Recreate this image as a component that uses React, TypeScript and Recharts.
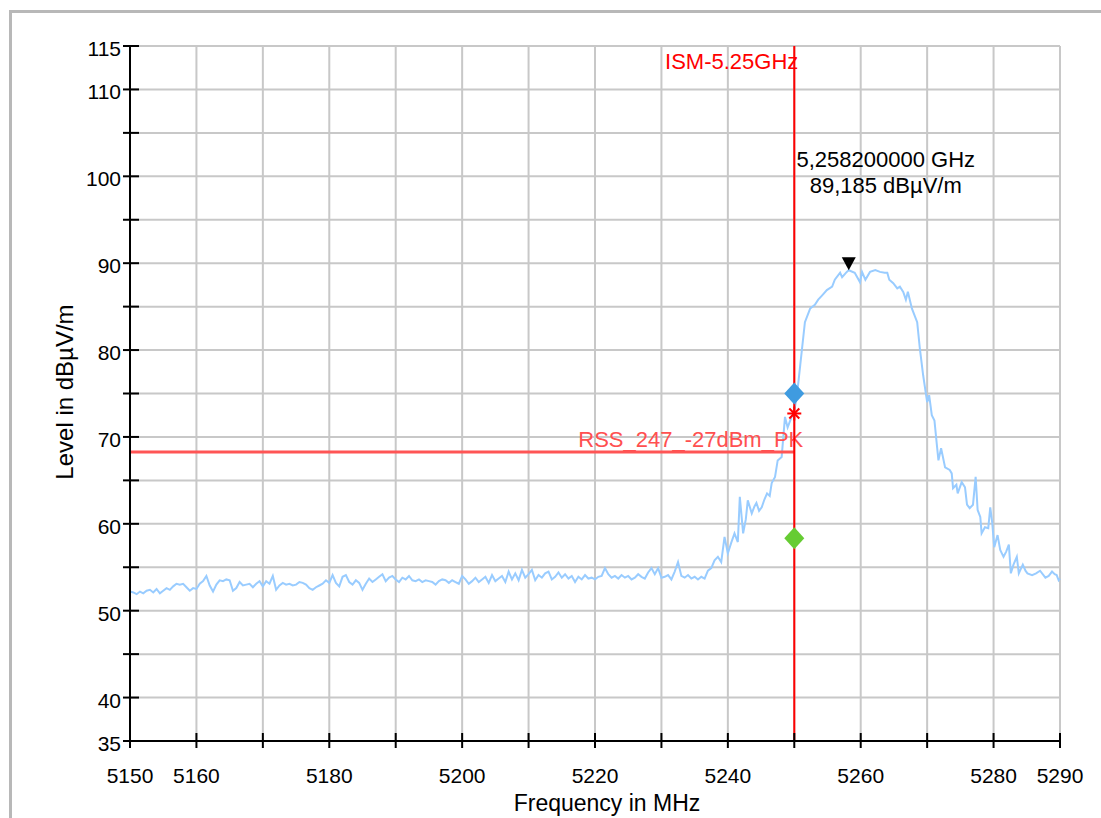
import React from "react";
import {
  LineChart,
  Line,
  XAxis,
  YAxis,
  CartesianGrid,
  ReferenceLine,
  ReferenceDot,
} from "recharts";

// sweep points (MHz) and measured level (dBµV/m)
const FREQ_MHZ = [
  5150, 5150.5, 5151, 5151.5, 5152, 5152.5, 5153, 5153.5, 5154, 5154.5,
  5155, 5155.5, 5156, 5156.5, 5157, 5157.5, 5158, 5158.5, 5159, 5159.5,
  5160, 5160.5, 5161, 5161.5, 5162, 5162.5, 5163, 5163.5, 5164, 5164.5,
  5165, 5165.5, 5166, 5166.5, 5167, 5167.5, 5168, 5168.5, 5169, 5169.5,
  5170, 5170.5, 5171, 5171.5, 5172, 5172.5, 5173, 5173.5, 5174, 5174.5,
  5175, 5175.5, 5176, 5176.5, 5177, 5177.5, 5178, 5178.5, 5179, 5179.5,
  5180, 5180.5, 5181, 5181.5, 5182, 5182.5, 5183, 5183.5, 5184, 5184.5,
  5185, 5185.5, 5186, 5186.5, 5187, 5187.5, 5188, 5188.5, 5189, 5189.5,
  5190, 5190.5, 5191, 5191.5, 5192, 5192.5, 5193, 5193.5, 5194, 5194.5,
  5195, 5195.5, 5196, 5196.5, 5197, 5197.5, 5198, 5198.5, 5199, 5199.5,
  5200, 5200.5, 5201, 5201.5, 5202, 5202.5, 5203, 5203.5, 5204, 5204.5,
  5205, 5205.5, 5206, 5206.5, 5207, 5207.5, 5208, 5208.5, 5209, 5209.5,
  5210, 5210.5, 5211, 5211.5, 5212, 5212.5, 5213, 5213.5, 5214, 5214.5,
  5215, 5215.5, 5216, 5216.5, 5217, 5217.5, 5218, 5218.5, 5219, 5219.5,
  5220, 5220.5, 5221, 5221.5, 5222, 5222.5, 5223, 5223.5, 5224, 5224.5,
  5225, 5225.5, 5226, 5226.5, 5227, 5227.5, 5228, 5228.5, 5229, 5229.5,
  5230, 5230.5, 5231, 5231.5, 5232, 5232.5, 5233, 5233.5, 5234, 5234.5,
  5235, 5235.5, 5236, 5236.5, 5237,
  5237.5, 5238, 5238.5, 5239, 5239.5, 5240, 5240.5, 5241, 5241.5, 5241.8,
  5242.3, 5242.7, 5243, 5243.6, 5244, 5244.3, 5244.7, 5245.1, 5245.5, 5245.9,
  5246.3, 5246.6, 5247.1, 5247.5, 5248.1, 5248.6, 5249, 5249.6, 5250, 5250.4,
  5250.9, 5251.6, 5252.4, 5253.1, 5253.6, 5254.2, 5254.9, 5255.7, 5256.1, 5256.9,
  5257.2, 5257.9, 5258.2, 5259.1, 5259.9, 5260.2, 5260.7, 5261.4, 5262.2, 5262.9,
  5263.6, 5264, 5264.3, 5264.9, 5265.5, 5265.9, 5266.4, 5266.8, 5267.1, 5267.7,
  5268.5, 5268.9, 5269.4, 5270, 5270.3, 5270.7, 5271.1, 5271.5, 5271.7, 5272.1,
  5272.7, 5273.4, 5273.7, 5273.9, 5274.4, 5274.6, 5275.2, 5275.7, 5276, 5276.4,
  5276.9, 5277.3, 5277.6, 5278, 5278.2, 5278.7, 5279.2, 5279.5, 5279.8, 5280.1,
  5280.6, 5281, 5281.5, 5281.9, 5282.3, 5282.6, 5283, 5283.5, 5283.8, 5284.4,
  5284.8, 5285.1, 5285.8, 5286.4, 5287, 5287.8, 5288.3, 5288.8, 5289.2, 5289.5,
  5289.8, 5290,
];

const LEVEL = [
  52.2, 52.1, 51.9, 52.2, 52.0, 52.3, 52.4, 52.1, 52.5, 52.0,
  52.3, 52.6, 52.4, 52.8, 53.1, 53.0, 53.1, 52.7, 52.3, 52.6,
  52.5, 53.1, 53.4, 54.0, 52.9, 52.2, 53.0, 53.5, 53.4, 53.6,
  53.5, 52.3, 52.6, 53.3, 52.9, 53.0, 53.1, 52.7, 53.1, 53.4,
  52.8, 53.4, 53.1, 54.0, 52.4, 52.9, 53.2, 53.0, 53.1, 52.9,
  53.0, 53.3, 53.2, 53.0, 52.6, 52.4, 52.7, 52.9, 53.1, 53.5,
  53.2, 54.1, 53.2, 52.8, 53.9, 54.1, 53.3, 53.0, 53.5, 53.2,
  52.4, 53.1, 53.7, 53.3, 53.6, 53.9, 54.2, 53.4, 53.8, 54.0,
  53.6, 53.3, 53.8, 53.6, 54.0, 53.5, 53.4, 53.6, 53.3, 53.5,
  53.4, 53.3, 53.0, 53.4, 53.6, 53.5, 53.2, 53.5, 53.3, 53.1,
  54.0, 53.6, 53.1, 53.4, 53.8, 53.3, 53.6, 53.9, 53.2, 54.1,
  53.4, 53.7, 54.0, 53.3, 54.5, 53.6, 54.3, 53.5, 54.7, 53.8,
  54.2, 54.7, 53.5, 54.1, 53.8, 54.3, 54.5, 53.6, 53.9, 54.4,
  53.8, 54.2, 53.7, 54.0, 53.3, 53.9, 53.6, 54.1, 53.7, 53.8,
  53.6, 53.9, 54.0, 54.9, 54.2, 53.8, 54.0, 53.7, 54.1, 53.8,
  54.0, 53.6, 53.8, 54.2, 53.9, 53.7, 54.4, 54.9, 54.2, 54.9,
  53.8, 53.9, 54.1, 53.6, 54.5, 55.6, 54.0, 53.8, 54.1, 53.7,
  53.9, 53.6, 53.9, 53.7, 54.6,
  54.9, 55.8, 56.2, 55.6, 58.5, 56.6, 57.8, 58.9, 57.9, 63.1,
  58.9, 60.5, 62.7, 61.2, 62.0, 62.4, 61.5, 61.9, 62.8, 63.5,
  63.2, 64.7, 65.4, 67.3, 67.7, 72.3, 71.1, 72.3, 73.0, 74.8,
  78.3, 83.2, 84.8, 85.2, 85.8, 86.3, 86.9, 87.3, 88.1, 88.9,
  88.4, 89.0, 89.185, 88.9, 87.8, 89.0, 88.1, 89.0, 89.2, 89.0,
  88.9, 88.9, 88.1, 87.7, 87.1, 87.3, 86.7, 85.8, 86.7, 84.8,
  83.2, 80.2, 77.1, 74.0, 74.8, 72.5, 71.9, 68.8, 67.3, 68.7,
  66.5, 66.2, 65.8, 64.1, 64.5, 63.5, 64.8, 64.2, 62.2, 61.8,
  62.2, 65.4, 61.6, 60.8, 58.9, 59.6, 59.5, 61.9, 60.1, 57.3,
  58.7, 57.0, 56.2, 56.8, 57.6, 54.3, 55.3, 56.2, 54.3, 55.3,
  54.6, 54.3, 54.1, 54.3, 54.6, 53.8, 54.0, 54.5, 54.2, 54.1,
  53.5, 53.7,
];

const X_TICKS = [5150, 5160, 5170, 5180, 5190, 5200, 5210, 5220, 5230, 5240, 5250, 5260, 5270, 5280, 5290];
const X_LABELS = [5150, 5160, 5180, 5200, 5220, 5240, 5260, 5280, 5290];
const Y_TICKS = [35, 40, 45, 50, 55, 60, 65, 70, 75, 80, 85, 90, 95, 100, 105, 110, 115];
const Y_LABELS = [35, 40, 50, 60, 70, 80, 90, 100, 110, 115];

const ISM_EDGE = 5250;
const LIMIT_LEVEL = 68.27;
const PEAK = { f: 5258.2, v: 89.185 };
const MARK_BLUE = 75;
const MARK_RED = 72.7;
const MARK_GREEN = 58.35;

const data = FREQ_MHZ.map((f, i) => ({ f, v: LEVEL[i] }));

const FONT = "'Liberation Sans', Arial, sans-serif";
const PLOT_LEFT = 130;
const PLOT_BOTTOM = 741;

const XTick = (props: any) => {
  const { x, payload } = props;
  return (
    <g>
      <line x1={x} x2={x} y1={PLOT_BOTTOM - 8} y2={PLOT_BOTTOM + 7} stroke="#000" strokeWidth={2} />
      {X_LABELS.includes(payload.value) && (
        <text x={x} y={PLOT_BOTTOM + 42} textAnchor="middle" fontSize={21} fontFamily={FONT} fill="#000">
          {payload.value}
        </text>
      )}
    </g>
  );
};

const YTick = (props: any) => {
  const { y, payload } = props;
  return (
    <g>
      <line x1={PLOT_LEFT - 7} x2={PLOT_LEFT + 9} y1={y} y2={y} stroke="#000" strokeWidth={2} />
      {Y_LABELS.includes(payload.value) && (
        <text x={PLOT_LEFT - 9} y={y + 10} textAnchor="end" fontSize={21} fontFamily={FONT} fill="#000">
          {payload.value}
        </text>
      )}
    </g>
  );
};

const Diamond = ({ cx, cy, fill }: any) => (
  <path d={`M${cx},${cy - 11} L${cx + 10},${cy} L${cx},${cy + 11} L${cx - 10},${cy} Z`} fill={fill} />
);

const Star = ({ cx, cy }: any) => (
  <g stroke="#ff0000" strokeWidth={2}>
    <line x1={cx - 7} x2={cx + 7} y1={cy} y2={cy} />
    <line x1={cx} x2={cx} y1={cy - 7} y2={cy + 7} />
    <line x1={cx - 5} x2={cx + 5} y1={cy - 5} y2={cy + 5} />
    <line x1={cx - 5} x2={cx + 5} y1={cy + 5} y2={cy - 5} />
  </g>
);

const PeakMarker = ({ cx, cy }: any) => (
  <g>
    <path d={`M${cx - 7},${cy - 13} L${cx + 7},${cy - 13} L${cx},${cy} Z`} fill="#000" />
    <text x={cx + 37} y={cy - 103} textAnchor="middle" fontSize={22} fontFamily={FONT} fill="#000">
      5,258200000 GHz
    </text>
    <text x={cx + 37} y={cy - 77} textAnchor="middle" fontSize={22} fontFamily={FONT} fill="#000">
      89,185 dBµV/m
    </text>
  </g>
);

export default function App() {
  return (
    <div style={{ position: "absolute", left: 0, top: 0, width: 1101, height: 818, overflow: "hidden", background: "#fff" }}>
      <div
        style={{
          position: "absolute",
          left: 9,
          top: 10,
          width: 1200,
          height: 1000,
          borderLeft: "3px solid #b8b8b8",
          borderTop: "3px solid #b8b8b8",
        }}
      />
      <div style={{ position: "absolute", left: 0, top: 0 }}>
        <LineChart width={1101} height={818} data={data} margin={{ top: 46, right: 41, bottom: 0, left: 0 }}>
          <CartesianGrid stroke="#c8c8c8" strokeWidth={2} />
          <XAxis
            dataKey="f"
            type="number"
            domain={[5150, 5290]}
            ticks={X_TICKS}
            interval={0}
            height={77}
            tickLine={false}
            tickSize={0}
            tick={<XTick />}
            axisLine={{ stroke: "#000", strokeWidth: 2 }}
            label={() => (
              <text x={607} y={811} textAnchor="middle" fontSize={23} fontFamily={FONT} fill="#000">
                Frequency in MHz
              </text>
            )}
          />
          <YAxis
            type="number"
            domain={[35, 115]}
            ticks={Y_TICKS}
            interval={0}
            width={130}
            tickLine={false}
            tickSize={0}
            tick={<YTick />}
            axisLine={{ stroke: "#000", strokeWidth: 2 }}
            label={() => (
              <text
                x={73}
                y={392}
                transform="rotate(-90 73 392)"
                textAnchor="middle"
                fontSize={24}
                fontFamily={FONT}
                fill="#000"
              >
                Level in dBµV/m
              </text>
            )}
          />
          <Line
            dataKey="v"
            type="linear"
            stroke="#99ccff"
            strokeWidth={2}
            dot={false}
            isAnimationActive={false}
          />
          <ReferenceLine
            segment={[
              { x: 5150, y: LIMIT_LEVEL },
              { x: ISM_EDGE, y: LIMIT_LEVEL },
            ]}
            stroke="#ff5555"
            strokeWidth={3}
            label={(p: any) => (
              <text
                x={p.viewBox.x + p.viewBox.width + 9}
                y={p.viewBox.y - 5}
                textAnchor="end"
                fontSize={22}
                fontFamily={FONT}
                fill="#ff5050"
              >
                RSS_247_-27dBm_PK
              </text>
            )}
          />
          <ReferenceLine
            x={ISM_EDGE}
            stroke="#ff0000"
            strokeWidth={2}
            label={(p: any) => (
              <text x={p.viewBox.x + 4} y={p.viewBox.y + 23} textAnchor="end" fontSize={22} fontFamily={FONT} fill="#ff0000">
                ISM-5.25GHz
              </text>
            )}
          />
          <ReferenceDot x={ISM_EDGE} y={MARK_BLUE} shape={(p: any) => <Diamond {...p} fill="#3f9be0" />} />
          <ReferenceDot x={ISM_EDGE} y={MARK_GREEN} shape={(p: any) => <Diamond {...p} fill="#66cc33" />} />
          <ReferenceDot x={ISM_EDGE} y={MARK_RED} shape={(p: any) => <Star {...p} />} />
          <ReferenceDot x={PEAK.f} y={PEAK.v} shape={(p: any) => <PeakMarker {...p} />} />
        </LineChart>
      </div>
    </div>
  );
}
